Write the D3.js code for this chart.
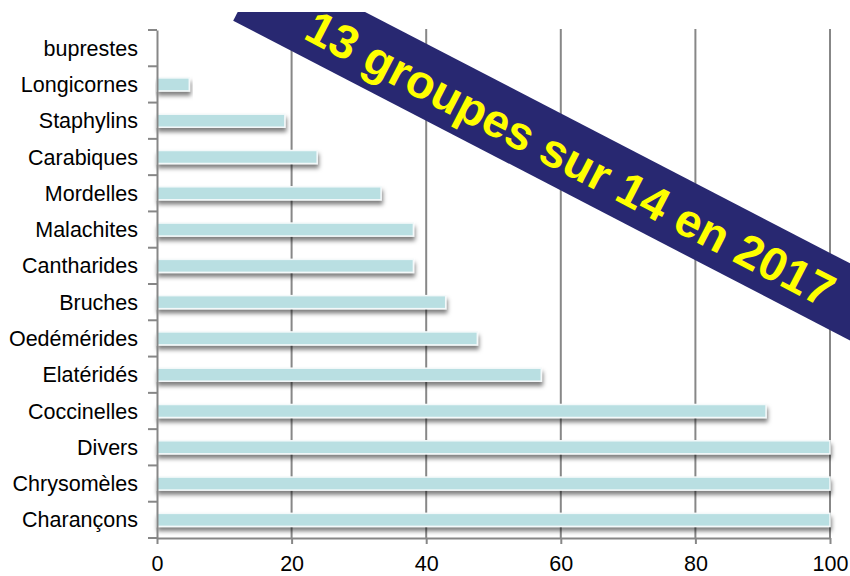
<!DOCTYPE html>
<html><head><meta charset="utf-8">
<script src="https://cdn.jsdelivr.net/npm/d3@7"></script>
<style>body{margin:0;background:#fff}svg{display:block}</style>
</head><body>
<svg id="c" width="850" height="576"></svg>
<script>
const categories = ["buprestes","Longicornes","Staphylins","Carabiques","Mordelles","Malachites","Cantharides","Bruches","Oedémérides","Elatéridés","Coccinelles","Divers","Chrysomèles","Charançons"];
const values = [0,4.8,19.0,23.8,33.3,38.1,38.1,42.9,47.6,57.1,90.5,100,100,100];
const xTicks = [0,20,40,60,80,100];
const bannerText = "13 groupes sur 14 en 2017";

const svg = d3.select("#c");
const font = "'Liberation Sans', Arial, sans-serif";
const x = d3.scaleLinear().domain([0,100]).range([157,830]);
const y = d3.scaleBand().domain(categories).range([30,538]).padding(0);
const gridCol = "#878787";
const barH = 13;

const defs = svg.append("defs");
const f = defs.append("filter").attr("id","sh").attr("x","-5%").attr("y","-50%").attr("width","115%").attr("height","250%");
f.append("feDropShadow").attr("dx",1).attr("dy",4).attr("stdDeviation",2.2).attr("flood-color","#000").attr("flood-opacity",0.5);
defs.append("clipPath").attr("id","bclip").append("rect").attr("x",0).attr("y",12).attr("width",850).attr("height",576);

// gridlines
svg.append("g").selectAll("line").data(xTicks.filter(d=>d>0)).join("line")
  .attr("x1",d=>x(d)).attr("x2",d=>x(d)).attr("y1",y.range()[0]-1).attr("y2",y.range()[1])
  .attr("stroke",gridCol).attr("stroke-width",2);

// bars
const data = categories.map((c,i)=>({c,v:values[i]}));
svg.append("g").selectAll("rect").data(data.filter(d=>d.v>0)).join("rect")
  .attr("x",x(0)).attr("y",d=>y(d.c)+(y.bandwidth()-barH)/2)
  .attr("width",d=>x(d.v)-x(0)).attr("height",barH)
  .attr("fill","#B9DFE2").attr("stroke","#f4f9fa").attr("stroke-width",1.5)
  .attr("filter","url(#sh)");

// bottom axis
const xa = svg.append("g").attr("transform",`translate(0,${y.range()[1]})`)
  .call(d3.axisBottom(x).tickValues(xTicks).tickSize(6).tickPadding(12).tickSizeOuter(0));
xa.select(".domain").attr("stroke",gridCol).attr("stroke-width",2);
xa.selectAll(".tick line").attr("stroke",gridCol).attr("stroke-width",2);
xa.selectAll("text").attr("font-family",font).attr("font-size",21.5).attr("fill","#000");

// left axis
const ya = svg.append("g").attr("transform",`translate(${x(0)},0)`)
  .call(d3.axisLeft(y).tickSize(0).tickPadding(19));
ya.select(".domain").attr("stroke",gridCol).attr("stroke-width",2);
ya.selectAll("text").attr("font-family",font).attr("font-size",21.5).attr("fill","#000").attr("dy","0.35em");
const bounds = categories.map(c=>y(c)).concat([y.range()[1]]);
svg.append("g").selectAll("line").data(bounds).join("line")
  .attr("x1",x(0)-9).attr("x2",x(0)).attr("y1",d=>d).attr("y2",d=>d)
  .attr("stroke",gridCol).attr("stroke-width",2);

// banner
const ang = 27.4;
const bg = svg.append("g").attr("clip-path","url(#bclip)")
  .append("g").attr("transform",`translate(557,150) rotate(${ang})`);
bg.append("rect").attr("x",-347).attr("y",-34.2).attr("width",900).attr("height",68.4).attr("fill","#282871");
bg.append("text").attr("x",16).attr("y",1).attr("dy","0.36em").attr("text-anchor","middle")
  .attr("font-family",font).attr("font-weight","bold").attr("font-size",47).attr("fill","#FFFF00")
  .text(bannerText);
</script>
</body></html>
